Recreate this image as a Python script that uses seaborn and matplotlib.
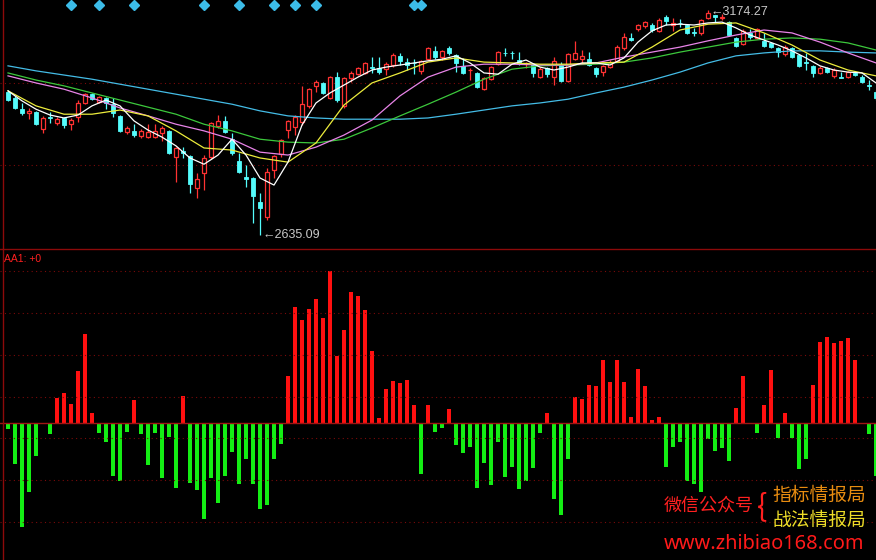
import numpy as np
import pandas as pd
import matplotlib
matplotlib.use('Agg')
import matplotlib.pyplot as plt
from matplotlib.lines import Line2D
import seaborn as sns

# --- daily candles, oldest first -------------------------------------------
opens = [2977, 2963, 2936, 2927, 2929, 2888, 2917, 2903, 2915, 2900,
         2917, 2951, 2972, 2953, 2963, 2948, 2920, 2881, 2884, 2872,
         2869, 2869, 2879, 2884, 2821, 2836, 2824, 2747, 2783, 2821,
         2896, 2908, 2864, 2812, 2773, 2771, 2713, 2677, 2790, 2828,
         2886, 2893, 2905, 2944, 2992, 2999, 2963, 3013, 2944, 3011,
         3020, 3023, 3037, 3035, 3032, 3042, 3064, 3049, 3048, 3028,
         3056, 3076, 3061, 3083, 3066, 3040, 3029, 3023, 2984, 3008,
         3044, 3072, 3072, 3054, 3046, 3042, 3013, 3035, 3013, 3042,
         3004, 3056, 3056, 3056, 3035, 3025, 3037, 3052, 3083, 3107,
         3128, 3136, 3138, 3124, 3157, 3138, 3144, 3138, 3122, 3119,
         3155, 3162, 3156, 3145, 3107, 3092, 3119, 3107, 3100, 3095,
         3083, 3068, 3083, 3066, 3050, 3040, 3023, 3035, 3016, 3014,
         3013, 3023, 3013, 2994, 2977]
highs = [2982, 2968, 2951, 2939, 2932, 2920, 2929, 2917, 2917, 2915,
         2958, 2975, 2975, 2968, 2965, 2963, 2922, 2896, 2900, 2888,
         2900, 2900, 2896, 2886, 2845, 2845, 2826, 2783, 2826, 2905,
         2922, 2920, 2879, 2831, 2802, 2773, 2735, 2795, 2826, 2864,
         2910, 2922, 2992, 2987, 3006, 3001, 3016, 3025, 3013, 3028,
         3037, 3049, 3061, 3061, 3049, 3071, 3071, 3059, 3056, 3054,
         3085, 3088, 3078, 3088, 3068, 3059, 3035, 3025, 3013, 3040,
         3076, 3083, 3076, 3073, 3049, 3044, 3037, 3037, 3061, 3049,
         3071, 3100, 3078, 3073, 3037, 3042, 3054, 3090, 3119, 3119,
         3140, 3148, 3143, 3155, 3162, 3155, 3152, 3140, 3131, 3152,
         3174.27, 3163, 3164, 3148, 3109, 3128, 3128, 3131, 3119, 3097,
         3085, 3090, 3085, 3068, 3071, 3042, 3040, 3037, 3035, 3025,
         3028, 3028, 3018, 3006, 2982]
lows = [2956, 2936, 2922, 2912, 2898, 2879, 2903, 2898, 2891, 2886,
        2905, 2948, 2958, 2951, 2936, 2917, 2881, 2876, 2869, 2867,
        2867, 2867, 2860, 2828, 2761, 2819, 2735, 2723, 2742, 2816,
        2891, 2879, 2826, 2783, 2749, 2663, 2635.09, 2670, 2771, 2821,
        2867, 2874, 2898, 2939, 2977, 2972, 2960, 2953, 2939, 3001,
        3018, 3020, 3023, 3020, 3018, 3037, 3042, 3030, 3020, 3020,
        3054, 3056, 3054, 3066, 3025, 3020, 3006, 2987, 2982, 3006,
        3042, 3064, 3056, 3042, 3035, 3013, 3011, 3013, 2994, 3001,
        3001, 3054, 3047, 3040, 3013, 3016, 3035, 3049, 3078, 3100,
        3124, 3131, 3121, 3121, 3138, 3124, 3133, 3116, 3112, 3114,
        3152, 3145, 3150, 3112, 3085, 3090, 3104, 3104, 3085, 3083,
        3061, 3064, 3059, 3037, 3030, 3013, 3020, 3023, 3011, 3011,
        3011, 3016, 2999, 2982, 2958]
closes = [2958, 2939, 2927, 2932, 2900, 2915, 2915, 2912, 2898, 2910,
          2951, 2972, 2960, 2965, 2951, 2927, 2884, 2891, 2874, 2884,
          2881, 2884, 2891, 2831, 2843, 2831, 2756, 2768, 2819, 2903,
          2908, 2881, 2831, 2785, 2768, 2728, 2699, 2785, 2824, 2862,
          2908, 2917, 2948, 2984, 3001, 2975, 3013, 2958, 3011, 3023,
          3035, 3047, 3035, 3025, 3044, 3066, 3052, 3042, 3046, 3052,
          3083, 3061, 3076, 3071, 3047, 3023, 3031, 2989, 3011, 3037,
          3073, 3070, 3070, 3047, 3048, 3023, 3032, 3020, 3052, 3004,
          3068, 3071, 3064, 3042, 3020, 3040, 3047, 3085, 3109, 3103,
          3138, 3145, 3126, 3150, 3148, 3143, 3142, 3119, 3120, 3150,
          3167, 3157, 3158, 3114, 3088, 3124, 3109, 3128, 3088, 3085,
          3073, 3085, 3061, 3040, 3048, 3023, 3035, 3025, 3030, 3012,
          3025, 3018, 3001, 2992, 2963]

# moving averages (MA5 every 2 days, the rest every 4)
ma5 = [2980, 2956, 2936, 2922, 2915, 2922, 2944, 2958, 2944, 2908,
       2886, 2869, 2848, 2819, 2804, 2826, 2864, 2826, 2771, 2754,
       2809, 2898, 2951, 2975, 2994, 3013, 3030, 3037, 3042, 3047,
       3052, 3056, 3064, 3047, 3023, 3020, 3044, 3054, 3037, 3030,
       3037, 3047, 3047, 3042, 3059, 3097, 3124, 3138, 3140, 3138,
       3143, 3145, 3131, 3114, 3102, 3090, 3076, 3059, 3040, 3030,
       3025, 3023, 2999]
ma10 = [2980, 2944, 2924, 2924, 2934, 2920, 2884, 2843, 2838, 2819,
        2809, 2855, 2946, 2999, 3023, 3049, 3059, 3049, 3047, 3044,
        3044, 3047, 3049, 3085, 3126, 3140, 3143, 3119, 3090, 3054,
        3030, 3016]
ma20 = [3016, 2999, 2984, 2963, 2939, 2920, 2900, 2884, 2864, 2833,
        2826, 2845, 2874, 2910, 2968, 3013, 3037, 3044, 3044, 3042,
        3042, 3047, 3061, 3073, 3085, 3100, 3114, 3126, 3119, 3097,
        3071, 3047]
ma30 = [3023, 3006, 2992, 2975, 2958, 2941, 2924, 2900, 2884, 2864,
        2857, 2855, 2864, 2891, 2920, 2948, 2977, 3008, 3032, 3040,
        3042, 3044, 3049, 3059, 3073, 3085, 3097, 3104, 3107, 3104,
        3095, 3078]
ma60 = [3040, 3028, 3018, 3008, 2996, 2984, 2972, 2960, 2948, 2932,
        2920, 2915, 2912, 2912, 2912, 2915, 2924, 2934, 2944, 2951,
        2960, 2975, 2989, 3006, 3025, 3047, 3064, 3071, 3076, 3076,
        3073, 3071]

signal_days = [9, 13, 18, 28, 33, 38, 41, 44, 58, 59]
high_label = '3174.27'
low_label = '2635.09'

# AA1 indicator bars
aa1 = [-6, -41, -104, -69, -33, -1, -11, 26, 31, 20,
       53, 90, 10, -10, -19, -53, -58, -9, 24, -11,
       -42, -10, -55, -14, -65, 28, -60, -67, -96, -55,
       -80, -53, -29, -61, -36, -61, -86, -82, -36, -21,
       48, 117, 104, 115, 125, 106, 153, 68, 94, 132,
       128, 114, 73, 5, 35, 43, 41, 44, 19, -51,
       19, -9, -5, 14, -22, -30, -24, -65, -40, -62,
       -19, -54, -44, -66, -58, -45, -10, 10, -76, -92,
       -36, 27, 25, 39, 38, 64, 42, 64, 42, 6,
       55, 38, 3, 6, -44, -24, -19, -58, -61, -69,
       -16, -28, -25, -38, 15, 48, 0, -10, 18, 54,
       -15, 10, -15, -46, -36, 39, 82, 87, 81, 83,
       86, 64, 0, -11, -53]

BG = 'black'
GRID = '#7a0a0a'
UP = '#ff3232'
DOWN = '#54fcfc'

W, H = 876, 560
fig = plt.figure(figsize=(W / 100, H / 100), dpi=100, facecolor=BG)
split = 248 / H
ax_top = fig.add_axes([0, 1 - split, 1, split])
ax_bot = fig.add_axes([0, 0, 1, 1 - split - 1 / H])
for ax in (ax_top, ax_bot):
    ax.set_facecolor(BG)
    for s in ax.spines.values():
        s.set_visible(False)
    ax.set_xticks([])
    ax.set_yticks([])

days = np.arange(len(closes))
o, h, l, c = map(np.array, (opens, highs, lows, closes))
up = c >= o
xmin, xmax = -8 / 7, 124

# ---- price panel ----
for y in (2999, 2802):
    ax_top.axhline(y, color=GRID, lw=0.8, ls=(0, (1, 3)))

ax_top.vlines(days[up], l[up], h[up], color=UP, lw=0.9, zorder=2)
ax_top.vlines(days[~up], l[~up], h[~up], color=DOWN, lw=0.9, zorder=2)
ax_top.bar(days[up], c[up] - o[up], bottom=o[up], width=0.64,
           facecolor=BG, edgecolor=UP, lw=0.9, zorder=3)
ax_top.bar(days[~up], o[~up] - c[~up], bottom=c[~up], width=0.64,
           facecolor=DOWN, edgecolor=DOWN, lw=0.6, zorder=3)

ma_styles = [(ma60, 4, '#44bce6'), (ma30, 4, '#3cc83c'), (ma20, 4, '#e884e8'),
             (ma10, 4, '#ecec3c'), (ma5, 2, '#ffffff')]
for vals, step, col in ma_styles:
    sns.lineplot(x=np.arange(0, len(vals) * step, step), y=vals, ax=ax_top,
                 color=col, lw=0.9, estimator=None, zorder=4)

ax_top.plot(signal_days, [3186] * len(signal_days), ls='none', marker='D',
            ms=5.5, color='#3cbce8', zorder=5)

ax_top.text(100.4, 3170, '\u2190' + high_label, color='#c8c8c8', fontsize=9,
            family='Liberation Sans', va='center', ha='left', zorder=6)
ax_top.text(36.3, 2633, '\u2190' + low_label, color='#c8c8c8', fontsize=9,
            family='Liberation Sans', va='center', ha='left', zorder=6)

ax_top.set_xlim(xmin, xmax)
ax_top.set_ylim(2603, 3198)
ax_top.set_xlabel('')
ax_top.set_ylabel('')

# ---- AA1 panel ----
for y in (153, 111, 69, 27, -15, -57, -99):
    ax_bot.axhline(y, color=GRID, lw=0.8, ls=(0, (1, 3)))

bar_df = pd.DataFrame({'day': days, 'aa1': aa1})
bar_df['side'] = np.where(bar_df['aa1'] >= 0, 'up', 'down')
sns.barplot(data=bar_df, x='day', y='aa1', hue='side', native_scale=True,
            palette={'up': '#ff1010', 'down': '#14ee14'}, width=0.57,
            dodge=False, errorbar=None, legend=False, saturation=1,
            linewidth=0, ax=ax_bot)
ax_bot.axhline(0, color='#a01414', lw=1, zorder=1)
ax_bot.set_xlim(xmin, xmax)
ax_bot.set_ylim(-137, 175)
ax_bot.set_xticks([])
ax_bot.set_yticks([])
ax_bot.set_xlabel('')
ax_bot.set_ylabel('')

# frame lines
fig.add_artist(Line2D([0, 1], [1 - 248.5 / H] * 2, color='#8c0a0a', lw=1))
fig.add_artist(Line2D([3 / W] * 2, [0, 1], color='#8c0a0a', lw=1))

fig.text(4 / W, 1 - 259 / H, 'AA1: +0', color='#ff2020', fontsize=7.5,
         family='Liberation Sans', va='center', ha='left')

# watermark
cjk = ['Noto Sans CJK SC', 'DejaVu Sans']
fig.text(664 / W, 1 - 506 / H, '微信公众号', color='#ff2020', fontsize=13,
         family=cjk, va='center', ha='left')
fig.text(762 / W, 1 - 507 / H, '{', color='#ff2020', fontsize=22,
         family=cjk, va='center', ha='center', fontweight='light')
fig.text(772 / W, 1 - 495 / H, '指标情报局', color='#e88c10', fontsize=13.5,
         family=cjk, va='center', ha='left')
fig.text(772 / W, 1 - 520 / H, '战法情报局', color='#ecdc28', fontsize=13.5,
         family=cjk, va='center', ha='left')
fig.text(664 / W, 1 - 544 / H, 'www.zhibiao168.com', color='#ff1a1a',
         fontsize=14.4, family='Noto Sans', va='center', ha='left')

fig.savefig('out.png', dpi=100, facecolor=BG)
